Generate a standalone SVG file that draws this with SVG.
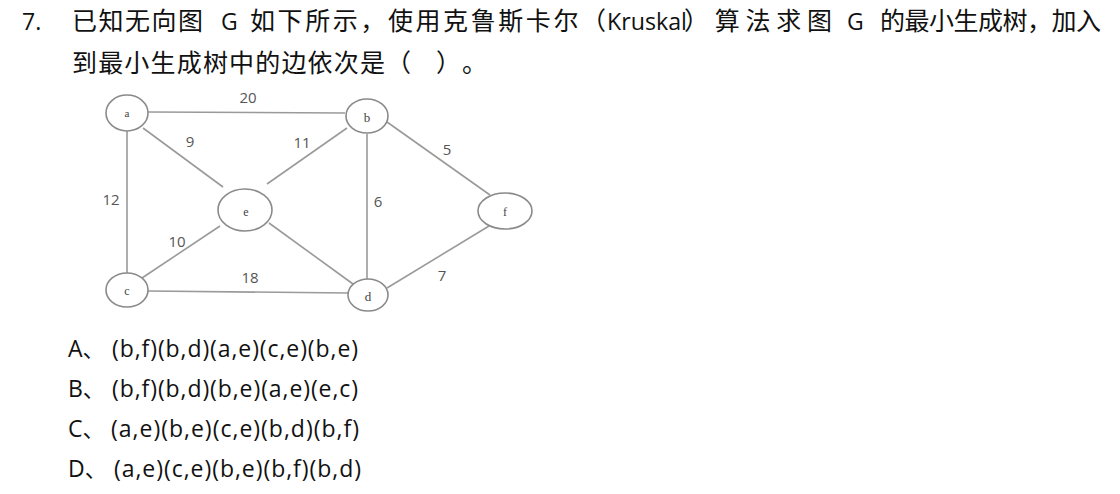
<svg xmlns="http://www.w3.org/2000/svg" width="1120" height="494" viewBox="0 0 1120 494">
<style>
.q{font-family:"Noto Sans CJK SC","Noto Sans",sans-serif;font-size:25px;fill:#111}
.lat{font-family:"Open Sans","Noto Sans",sans-serif;font-size:23px;fill:#111}
.opt{font-family:"Open Sans","Noto Sans CJK SC",sans-serif;font-size:23px;fill:#111}
.cjk{font-family:"Noto Sans CJK SC",sans-serif;font-size:22px;fill:#111}
.edge{stroke:#9a9a9a;stroke-width:1.6;fill:none}
.node ellipse{fill:#fff;stroke:#8a8a8a;stroke-width:1.6}
.nl{font-family:"Liberation Serif",serif;font-size:13px;fill:#444;text-anchor:middle}
.w{font-family:"Open Sans",sans-serif;font-size:15px;fill:#555;text-anchor:middle}
</style>
<rect width="1120" height="494" fill="#fff"/>
<g id="question">
<text class="lat" x="22" y="30">7.</text>
<text class="q" x="72" y="30" textLength="131" lengthAdjust="spacing">已知无向图</text>
<text class="lat" x="221" y="30">G</text>
<text class="q" x="250" y="30" textLength="356" lengthAdjust="spacing">如下所示，使用克鲁斯卡尔（</text>
<text class="lat" x="607" y="30" textLength="80" lengthAdjust="spacingAndGlyphs">Kruskal</text>
<text class="q" x="684" y="30" textLength="148" lengthAdjust="spacing">）算法求图</text>
<text class="lat" x="847" y="30">G</text>
<text class="q" x="880" y="30" textLength="221" lengthAdjust="spacing">的最小生成树，加入</text>
<text class="q" x="72" y="72" textLength="313" lengthAdjust="spacing">到最小生成树中的边依次是</text>
<text class="q" x="386" y="72">（</text>
<text class="q" x="436" y="72">）</text>
<text class="q" x="462" y="72">。</text>
</g>
<g id="connectors">
<line class="edge" x1="148" y1="112" x2="345" y2="113"/>
<line class="edge" x1="143" y1="128" x2="223" y2="187"/>
<line class="edge" x1="127" y1="131" x2="127" y2="273"/>
<line class="edge" x1="347" y1="128" x2="267" y2="184"/>
<line class="edge" x1="367" y1="134" x2="367" y2="279"/>
<line class="edge" x1="387" y1="122" x2="490" y2="195"/>
<line class="edge" x1="220" y1="226" x2="142" y2="278"/>
<line class="edge" x1="269" y1="223" x2="353" y2="284"/>
<line class="edge" x1="148" y1="291" x2="348" y2="293"/>
<line class="edge" x1="387" y1="288" x2="489" y2="226"/>
</g>
<g id="weights">
<text class="w" x="248" y="103">20</text>
<text class="w" x="190" y="147">9</text>
<text class="w" x="302" y="148">11</text>
<text class="w" x="447" y="155">5</text>
<text class="w" x="111" y="205">12</text>
<text class="w" x="378" y="207">6</text>
<text class="w" x="177" y="247">10</text>
<text class="w" x="250" y="283">18</text>
<text class="w" x="442" y="281">7</text>
</g>
<g id="node-a" class="node"><ellipse cx="127" cy="113" rx="21" ry="18"/><text class="nl" x="127" y="117" style="font-size:11px">a</text></g>
<g id="node-b" class="node"><ellipse cx="367" cy="116" rx="21" ry="17"/><text class="nl" x="367" y="122">b</text></g>
<g id="node-e" class="node"><ellipse cx="245" cy="210" rx="27" ry="21"/><text class="nl" x="246" y="216" style="font-size:12px">e</text></g>
<g id="node-f" class="node"><ellipse cx="505" cy="211" rx="27" ry="18"/><text class="nl" x="505" y="216" style="font-size:12px">f</text></g>
<g id="node-c" class="node"><ellipse cx="127" cy="290" rx="21" ry="17"/><text class="nl" x="127" y="295" style="font-size:12px">c</text></g>
<g id="node-d" class="node"><ellipse cx="368" cy="295" rx="20" ry="16"/><text class="nl" x="368" y="301">d</text></g>
<g id="options">
<text class="opt" x="68" y="357">A<tspan class="cjk">、</tspan></text>
<text class="opt" x="112" y="357" textLength="246" lengthAdjust="spacing">(b,f)(b,d)(a,e)(c,e)(b,e)</text>
<text class="opt" x="68" y="397">B<tspan class="cjk">、</tspan></text>
<text class="opt" x="112" y="397" textLength="246" lengthAdjust="spacing">(b,f)(b,d)(b,e)(a,e)(e,c)</text>
<text class="opt" x="68" y="437">C<tspan class="cjk">、</tspan></text>
<text class="opt" x="111" y="437" textLength="248" lengthAdjust="spacing">(a,e)(b,e)(c,e)(b,d)(b,f)</text>
<text class="opt" x="68" y="477">D<tspan class="cjk">、</tspan></text>
<text class="opt" x="114" y="477" textLength="247" lengthAdjust="spacing">(a,e)(c,e)(b,e)(b,f)(b,d)</text>
</g>
</svg>
